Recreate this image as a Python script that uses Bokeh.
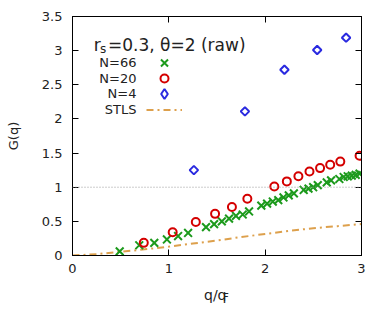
from bokeh.plotting import figure
from bokeh.layouts import column
from bokeh.models import LinearAxis, Range1d, Legend, LegendItem, Label, FixedTicker, Span
from bokeh.embed import file_html
from bokeh.resources import INLINE

# ---- data ----
q66 = [0.49, 0.693, 0.849, 0.98, 1.096, 1.2, 1.386, 1.47, 1.55, 1.625, 1.697, 1.767,
       1.833, 1.96, 2.02, 2.079, 2.136, 2.19, 2.245, 2.298, 2.40, 2.45, 2.498, 2.546,
       2.639, 2.684, 2.77, 2.815, 2.857, 2.899, 2.94, 2.98]
g66 = [0.06, 0.15, 0.185, 0.235, 0.285, 0.33, 0.415, 0.46, 0.50, 0.54, 0.58, 0.60,
       0.645, 0.73, 0.76, 0.79, 0.81, 0.85, 0.88, 0.91, 0.96, 0.98, 1.00, 1.03,
       1.07, 1.10, 1.12, 1.15, 1.16, 1.17, 1.18, 1.20]
q20 = [0.74, 1.04, 1.28, 1.48, 1.655, 1.815, 2.095, 2.225, 2.345, 2.46, 2.57, 2.675, 2.78, 2.98]
g20 = [0.185, 0.34, 0.49, 0.61, 0.71, 0.83, 1.01, 1.085, 1.16, 1.23, 1.28, 1.33, 1.375, 1.46]
q4 = [1.26, 1.79, 2.20, 2.54, 2.84]
g4 = [1.25, 2.11, 2.72, 3.01, 3.19]
q_stls = [0, 0.25, 0.5, 0.75, 1.0, 1.25, 1.5, 1.75, 2.0, 2.25, 2.5, 2.75, 3.0]
g_stls = [0, 0.02, 0.055, 0.09, 0.13, 0.175, 0.22, 0.27, 0.315, 0.36, 0.40, 0.43, 0.46]

x_ticks = [0, 1, 2, 3]
x_tick_labels = ["0", "1", "2", "3"]
y_ticks = [0, 0.5, 1, 1.5, 2, 2.5, 3, 3.5]
y_tick_labels = ["0", "0.5", "1", "1.5", "2", "2.5", "3", "3.5"]
series_labels = ["N=66", "N=20", "N=4", "STLS"]

FONT = "DejaVu Sans"
TXT = "#222222"
GREEN = "#1c9a1c"
RED = "#d40000"
BLUE = "#2a2ae0"
ORANGE = "#dda04c"

p = figure(width=386, height=283, output_backend="svg", toolbar_location=None,
           x_range=Range1d(0, 3), y_range=Range1d(0, 3.5),
           min_border_left=72, min_border_right=25, min_border_top=16, min_border_bottom=28)
p.background_fill_color = "white"
p.border_fill_color = "white"
p.outline_line_color = "black"
p.outline_line_width = 1
p.grid.visible = False

def style_axis(ax, ticks, labels, show_labels=True):
    ax.ticker = FixedTicker(ticks=ticks)
    ax.major_tick_in = 6
    ax.major_tick_out = 0
    ax.minor_tick_line_color = None
    ax.axis_line_color = "black"
    ax.major_tick_line_color = "black"
    ax.major_label_text_font = FONT
    ax.major_label_text_color = TXT
    ax.major_label_text_font_size = "13px"
    if show_labels:
        ax.major_label_overrides = {t: l for t, l in zip(ticks, labels)}
    else:
        ax.major_label_overrides = {t: "" for t in ticks}
        ax.major_label_standoff = 0

style_axis(p.xaxis[0], x_ticks, x_tick_labels)
style_axis(p.yaxis[0], y_ticks, y_tick_labels)
p.xaxis[0].major_label_standoff = 8
p.yaxis[0].major_label_standoff = 10
p.yaxis[0].axis_label = "G(q)"
p.yaxis[0].axis_label_text_font = FONT
p.yaxis[0].axis_label_text_font_style = "normal"
p.yaxis[0].axis_label_text_font_size = "13px"
p.yaxis[0].axis_label_text_color = TXT
p.yaxis[0].axis_label_standoff = 18

top = LinearAxis()
style_axis(top, x_ticks, x_tick_labels, show_labels=False)
p.add_layout(top, "above")
right = LinearAxis()
style_axis(right, y_ticks, y_tick_labels, show_labels=False)
p.add_layout(right, "right")

# reference line at G=1
p.add_layout(Span(location=1, dimension="width", line_color="#999999",
                  line_dash="1 2", line_width=1))

r_stls = p.line(q_stls, g_stls, line_color=ORANGE, line_width=2, line_dash="7 4 2 4")
r66 = p.scatter(q66, g66, marker="x", size=11, line_color=GREEN, line_width=2)
r20 = p.scatter(q20, g20, marker="circle", size=8, line_color=RED, fill_color=None, line_width=2)
r4 = p.scatter(q4, g4, marker="square", size=6, angle=0.785398, line_color=BLUE,
               fill_color=None, line_width=2)
# legend key for N=4 (legend keys ignore marker angle); holds no visible point
r4_key = p.scatter(x=[float("nan")], y=[float("nan")], marker="diamond",
                   line_color=BLUE, fill_color=None, line_width=2)

# one legend per row: gnuplot-style keys to the right of right-aligned texts
row_y = [62.3, 78.3, 93.3, 109.0]          # page y of each key row
key_h = [25, 20, 25, 15]                    # key box height -> marker size
for rend, yy, kh in zip([r66, r20, r4_key, r_stls], row_y, key_h):
    lg = Legend(items=[LegendItem(label="", renderers=[rend])],
                location=(74, 255 - yy - kh / 2), orientation="vertical",
                glyph_width=36, glyph_height=kh, label_height=kh, label_width=0,
                label_standoff=0, padding=0, spacing=0, margin=0,
                background_fill_alpha=0, border_line_color=None)
    p.add_layout(lg, "center")

for lab, yy in zip(series_labels, row_y):
    p.add_layout(Label(x=136 - 72, y=255 - yy, x_units="screen", y_units="screen",
                       text=lab, text_font=FONT, text_font_size="13px",
                       text_color=TXT, text_align="right", text_baseline="middle"))

# title inside plot
p.add_layout(Label(x=93.3 - 72, y=255 - 44, x_units="screen", y_units="screen", text="r",
                   text_font=FONT, text_font_size="17px", text_color=TXT,
                   text_baseline="alphabetic"))
p.add_layout(Label(x=99.5 - 72, y=255 - 48, x_units="screen", y_units="screen", text="s",
                   text_font=FONT, text_font_size="12px", text_color=TXT,
                   text_baseline="alphabetic"))
p.add_layout(Label(x=107.5 - 72, y=255 - 44, x_units="screen", y_units="screen",
                   text="=0.3, θ=2 (raw)",
                   text_font=FONT, text_font_size="17px", text_color=TXT,
                   text_baseline="alphabetic"))

# strip below the plot holding the x axis label q/q_F (its frame aligns with the plot's)
p2 = figure(width=386, height=37, output_backend="svg", toolbar_location=None,
            x_range=Range1d(0, 1), y_range=Range1d(0, 1),
            x_axis_type=None, y_axis_type=None, min_border=0)
p2.outline_line_color = None
p2.grid.visible = False
p2.background_fill_color = "white"
p2.border_fill_color = "white"
p2.add_layout(Label(x=203.5 - 72, y=320 - 294, x_units="screen", y_units="screen", text="q/q",
                    text_font=FONT, text_font_size="14px", text_color=TXT,
                    text_baseline="alphabetic"))
p2.add_layout(Label(x=222.5 - 72, y=320 - 297, x_units="screen", y_units="screen", text="F",
                    text_font=FONT, text_font_size="10px", text_color=TXT,
                    text_baseline="alphabetic"))

layout = column(p, p2, spacing=0)
open("out.html", "w").write(file_html(layout, INLINE))
